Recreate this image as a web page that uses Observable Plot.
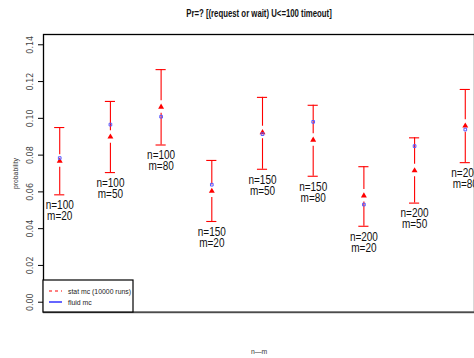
<!DOCTYPE html>
<html><head><meta charset="utf-8">
<script src="https://cdn.jsdelivr.net/npm/d3@7"></script>
<script src="https://cdn.jsdelivr.net/npm/@observablehq/plot@0.6"></script>
<style>
body{margin:0;background:#fff;}
#chart{width:474px;height:358px;overflow:hidden;}
</style></head>
<body><div id="chart"></div>
<script>
const labels = ["n=100\nm=20","n=100\nm=50","n=100\nm=80","n=150\nm=20","n=150\nm=50","n=150\nm=80","n=200\nm=20","n=200\nm=50","n=200\nm=80"];
const statMC = [0.0768,0.0899,0.1062,0.0604,0.0923,0.0882,0.0579,0.0716,0.0959];
const ciLower = [0.0584,0.0705,0.0855,0.0439,0.0723,0.0685,0.0413,0.0539,0.0759];
const ciUpper = [0.0950,0.1092,0.1265,0.0771,0.1114,0.1071,0.0737,0.0894,0.1157];
const fluidMC = [0.0784,0.0966,0.1009,0.0639,0.0914,0.0981,0.0531,0.0849,0.0939];
const yTicks = [0,0.02,0.04,0.06,0.08,0.10,0.12,0.14];
const title = "Pr=? [(request or wait) U<=100 timeout]";
const xLabel = "n\u2014m";
const yLabel = "probability";
const legendItems = ["stat mc (10000 runs)","fluid mc"];

const data = labels.map((l,i)=>({i:i+1,label:l,stat:statMC[i],lo:ciLower[i],hi:ciUpper[i],fluid:fluidMC[i]}));
const gap = 0.0034, cap = 0.1;
const sans = "'Liberation Sans',Arial,sans-serif";

const plot = Plot.plot({
  width:474, height:358,
  marginLeft:43, marginTop:34, marginBottom:46, marginRight:0,
  x:{type:"linear", domain:[0.68,9.32], range:[43,481], axis:null},
  y:{domain:[-0.0056,0.1456]},
  style:{background:"white", overflow:"visible"},
  marks:[
    Plot.frame({stroke:"black", strokeWidth:1.3}),
    Plot.axisY({ticks:yTicks, tickFormat:d3.format(".2f"), tickSize:5, tickRotate:-90, textAnchor:"middle", tickPadding:6, fontSize:8, fill:"#444", fontFamily:"'DejaVu Sans',sans-serif", label:null}),
    Plot.ruleX(data,{x:"i", y1:"lo", y2:d=>d.stat-gap, stroke:"red", strokeWidth:1.1}),
    Plot.ruleX(data,{x:"i", y1:d=>d.stat+gap, y2:"hi", stroke:"red", strokeWidth:1.1}),
    Plot.ruleY(data,{y:"hi", x1:d=>d.i-cap, x2:d=>d.i+cap, stroke:"red", strokeWidth:1.1}),
    Plot.ruleY(data,{y:"lo", x1:d=>d.i-cap, x2:d=>d.i+cap, stroke:"red", strokeWidth:1.1}),
    Plot.dot(data,{x:"i", y:"stat", symbol:"triangle", fill:"red", r:2.2}),
    Plot.dot(data,{x:"i", y:"fluid", symbol:"square", stroke:"#5a5aff", fill:"none", r:1.5, strokeWidth:1}),
    Plot.text(data,{x:"i", y:"lo", text:"label", lineAnchor:"top", dy:6.5, lineHeight:0.88, fontSize:12.5, fill:"#111", fontFamily:sans}),
    Plot.text([title],{frameAnchor:"top", dy:-21, lineAnchor:"middle", text:d=>d, fontSize:10, fontWeight:"bold", fontFamily:sans, fill:"#111"}),
    Plot.text([xLabel],{frameAnchor:"bottom", dy:39, lineAnchor:"middle", text:d=>d, fontSize:8, fontFamily:sans, fill:"#333"}),
    Plot.text([yLabel],{frameAnchor:"left", dx:-28, rotate:-90, textAnchor:"middle", lineAnchor:"middle", text:d=>d, fontSize:8, fontFamily:sans, fill:"#333"})
  ]
});
document.getElementById("chart").appendChild(plot);

const svg = d3.select(plot);
// condense narrow-font texts horizontally
function squeezeFactor(s){
  if (/^n=\d+/.test(s)) return 0.8;
  if (s === title) return 0.78;
  if (s === xLabel || s === yLabel) return 0.85;
  return null;
}
plot.querySelectorAll("text").forEach(el=>{
  const k = squeezeFactor(el.textContent);
  if (k == null) return;
  const t = el.getAttribute("transform") || "";
  el.setAttribute("transform", t + ` scale(${k},1)`);
});
// bottom border in gray + legend box
svg.append("line").attr("x1",43).attr("x2",481).attr("y1",312).attr("y2",312).attr("stroke","#666").attr("stroke-width",1.5);
const lg = svg.append("g");
lg.append("rect").attr("x",43).attr("y",280).attr("width",90).attr("height",32).attr("fill","white").attr("stroke","black").attr("stroke-width",1.2);
lg.append("line").attr("x1",49).attr("x2",62).attr("y1",291).attr("y2",291).attr("stroke","#ff0000").attr("stroke-width",1.2).attr("stroke-dasharray","3,3");
lg.append("line").attr("x1",49).attr("x2",62).attr("y1",302).attr("y2",302).attr("stroke","#0000ff").attr("stroke-width",1.2);
legendItems.forEach((t,k)=>{
  lg.append("text").attr("text-anchor","start").attr("font-size",8).attr("font-family",sans).attr("fill","#222")
    .attr("transform",`translate(68,${291+k*11}) scale(0.86,1)`).attr("dy","0.35em").text(t);
});
</script></body></html>
